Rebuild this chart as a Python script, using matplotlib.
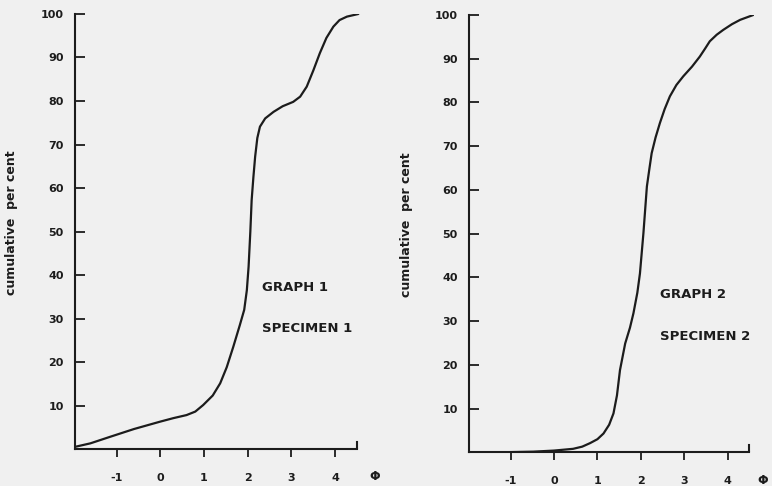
import matplotlib
matplotlib.use("Agg")
import matplotlib.pyplot as plt

# specimen 1 cumulative curve (phi, cumulative per cent)
phi_1 = [-1.95, -1.6, -1.15, -0.6, 0.0, 0.3, 0.6, 0.8, 0.98, 1.2, 1.37, 1.52,
         1.67, 1.82, 1.92, 1.98, 2.02, 2.06, 2.09, 2.13, 2.17, 2.22, 2.28, 2.4,
         2.59, 2.8, 3.04, 3.2, 3.35, 3.5, 3.65, 3.8, 3.96, 4.1, 4.27, 4.53]
cum_1 = [0.5, 1.3, 2.8, 4.6, 6.3, 7.1, 7.8, 8.6, 10.1, 12.3, 15.1, 18.8,
         23.5, 28.5, 32.0, 36.5, 41.9, 50.0, 57.2, 62.5, 67.2, 71.5, 74.1, 76.0,
         77.5, 78.8, 79.8, 81.0, 83.3, 87.0, 91.0, 94.5, 97.1, 98.6, 99.4, 100.0]

# specimen 2 cumulative curve
phi_2 = [-1.96, -1.0, -0.48, 0.0, 0.44, 0.65, 0.83, 1.0, 1.14, 1.27, 1.37,
         1.45, 1.52, 1.64, 1.75, 1.83, 1.92, 1.98, 2.06, 2.14, 2.2, 2.25,
         2.34, 2.44, 2.55, 2.67, 2.82, 2.98, 3.18, 3.36, 3.48, 3.59, 3.75,
         3.9, 4.1, 4.29, 4.59]
cum_2 = [0.0, 0.05, 0.15, 0.4, 0.8, 1.3, 2.1, 3.0, 4.3, 6.3, 8.9,
         13.0, 18.8, 24.9, 28.5, 31.8, 36.5, 40.9, 50.1, 60.8, 65.0, 68.4,
         72.0, 75.3, 78.5, 81.4, 84.0, 86.0, 88.2, 90.5, 92.3, 94.0, 95.5,
         96.6, 97.9, 98.9, 100.0]

x_ticks = [-1, 0, 1, 2, 3, 4]
x_labels = ["-1", "0", "1", "2", "3", "4"]
y_ticks = [10, 20, 30, 40, 50, 60, 70, 80, 90, 100]
titles = [["GRAPH 1", "SPECIMEN 1"], ["GRAPH 2", "SPECIMEN 2"]]

bg = "#f0f0f0"
ink = "#1c1c1c"

fig = plt.figure(figsize=(7.72, 4.86), dpi=100, facecolor=bg)
ax1 = fig.add_axes([0.0972, 0.0761, 0.3709, 0.8951])
ax2 = fig.add_axes([0.6075, 0.0693, 0.3687, 0.8998])

panels = [(ax1, phi_1, cum_1, -1.95, (2.33, 37.2, 27.8), -0.20, 4.9),
          (ax2, phi_2, cum_2, -1.96, (2.44, 36.0, 26.5), -0.197, 4.82)]

for i, (ax, xs, ys, xmin, txt, lab_x, phi_x) in enumerate(panels):
    ax.set_facecolor(bg)
    ax.plot(xs, ys, color=ink, lw=1.6, solid_capstyle="round")
    ax.set_xlim(xmin, 4.6)
    ax.set_ylim(0, 100)
    for s in ["top", "right"]:
        ax.spines[s].set_visible(False)
    for s in ["left", "bottom"]:
        ax.spines[s].set_linewidth(1.5)
        ax.spines[s].set_color(ink)
    ax.spines["bottom"].set_bounds(xmin, 4.5)
    # small upright mark at the end of the phi axis
    ax.axvline(4.5, ymin=0, ymax=0.016, color=ink, lw=1.5)

    ax.set_xticks(x_ticks)
    ax.set_xticklabels(x_labels)
    ax.set_yticks(y_ticks)
    ax.tick_params(axis="x", direction="out", length=6, width=1.3, pad=11,
                   colors=ink, labelsize=8)
    ax.tick_params(axis="y", direction="in", length=7, width=1.3, pad=8,
                   colors=ink, labelsize=8)
    for lbl in ax.get_xticklabels() + ax.get_yticklabels():
        lbl.set_fontweight("bold")

    ax.set_ylabel("cumulative  per cent", fontsize=9, fontweight="bold", color=ink)
    ax.yaxis.set_label_coords(lab_x, 0.52)

    ax.annotate("Φ", xy=(phi_x, 0), xycoords=("data", "axes fraction"),
                xytext=(0, -20), textcoords="offset points",
                ha="center", va="center", fontsize=9, fontweight="bold",
                color=ink, annotation_clip=False)

    tx, ty1, ty2 = txt
    ax.text(tx, ty1, titles[i][0], fontsize=9.5, fontweight="bold", color=ink,
            ha="left", va="center")
    ax.text(tx, ty2, titles[i][1], fontsize=9.5, fontweight="bold", color=ink,
            ha="left", va="center")

fig.savefig("out.png", dpi=100, facecolor=bg)
